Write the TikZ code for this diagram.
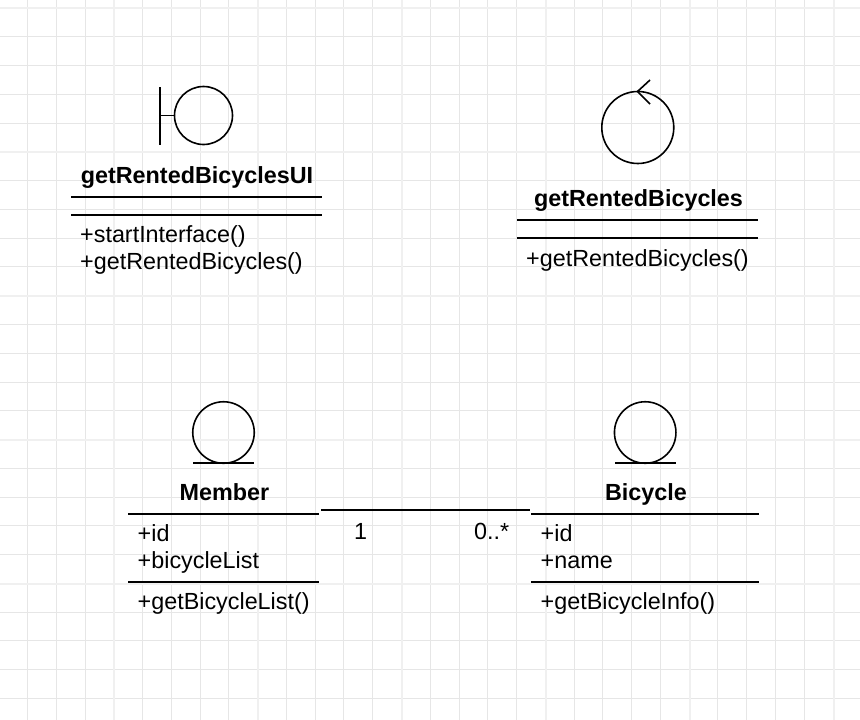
\documentclass[tikz,border=0pt]{standalone}
\usepackage{fontspec}
\setmainfont{Liberation Sans}
\definecolor{gridminor}{HTML}{E6E6E6}
\definecolor{gridmajor}{HTML}{F0F0F0}
\tikzset{
  x=1pt,y=-1pt,
  gridline/.style={gridminor,line width=1pt},
  gridbold/.style={gridmajor,line width=1.6pt},
  sepline/.style={black,line width=1.6pt},
  shapeline/.style={black,line width=1.6pt},
  glyph/.style={circle,draw=black,line width=1.6pt,inner sep=0pt,outer sep=0pt},
  titletext/.style={font=\fontsize{23.35}{28}\selectfont\bfseries,inner sep=0pt,anchor=base},
  bodytext/.style={font=\fontsize{23.35}{28}\selectfont,inner sep=0pt,anchor=base west},
}
\begin{document}
\begin{tikzpicture}
\useasboundingbox (0,0) rectangle (860,720);
\fill[white] (0,0) rectangle (860,720);
% grid
\foreach \k in {0,...,29}{
  \pgfmathsetmacro{\gx}{27.5+28.77*\k}
  \draw[gridline] (\gx,0) -- (\gx,720);
}
\foreach \k in {0,...,24}{
  \pgfmathsetmacro{\gy}{8+28.77*\k}
  \draw[gridline] (0,\gy) -- (860,\gy);
}
\foreach \gx in {114,258,402,546,690,834}{\draw[gridbold] (\gx,0) -- (\gx,720);}
\foreach \gy in {8,152,296,440,584}{\draw[gridbold] (0,\gy) -- (860,\gy);}

% boundary class
\node[glyph,minimum size=58pt] (bcirc) at (203.5,115.5) {};
\coordinate (bbarT) at (160,87);
\coordinate (bbarB) at (160,144.5);
\coordinate (bbarM) at (160,115.5);
\draw[shapeline] (bbarT) -- (bbarB);
\draw[shapeline] (bbarM) -- (bcirc.west);
\node[titletext] (uititle) at (197,183) {getRentedBicyclesUI};
\coordinate (uiL1) at (71,197); \coordinate (uiR1) at (322,197);
\coordinate (uiL2) at (71,215); \coordinate (uiR2) at (322,215);
\draw[sepline] (uiL1) -- (uiR1);
\draw[sepline] (uiL2) -- (uiR2);
\node[bodytext] (uiop1) at (80,242) {+startInterface()};
\node[bodytext] (uiop2) at (80,269) {+getRentedBicycles()};

% control class
\node[glyph,minimum size=72pt] (ccirc) at (637.8,127.5) {};
\coordinate (ctip) at (637.5,91.5);
\coordinate (ctop) at (650,80);
\coordinate (cbot) at (650,104);
\draw[shapeline] (ctop) -- (ctip) -- (cbot);
\node[titletext] (ctitle) at (638.5,206) {getRentedBicycles};
\coordinate (cL1) at (517,220); \coordinate (cR1) at (758,220);
\coordinate (cL2) at (517,238); \coordinate (cR2) at (758,238);
\draw[sepline] (cL1) -- (cR1);
\draw[sepline] (cL2) -- (cR2);
\node[bodytext] (cop1) at (526,266) {+getRentedBicycles()};

% entity Member
\node[glyph,minimum size=61.5pt] (mcirc) at (223.5,432.5) {};
\coordinate (mulL) at (193,463); \coordinate (mulR) at (254,463);
\draw[shapeline] (mulL) -- (mulR);
\node[titletext] (mtitle) at (224.5,500) {Member};
\coordinate (mL1) at (128,514); \coordinate (mR1) at (319,514);
\coordinate (mL2) at (128,582); \coordinate (mR2) at (319,582);
\draw[sepline] (mL1) -- (mR1);
\draw[sepline] (mL2) -- (mR2);
\node[bodytext] (mattr1) at (137.5,541) {+id};
\node[bodytext] (mattr2) at (137.5,568) {+bicycleList};
\node[bodytext] (mop1) at (137.5,609) {+getBicycleList()};

% entity Bicycle
\node[glyph,minimum size=61.5pt] (bicirc) at (645.2,432.5) {};
\coordinate (bulL) at (615,463); \coordinate (bulR) at (676,463);
\draw[shapeline] (bulL) -- (bulR);
\node[titletext] (btitle) at (646,500) {Bicycle};
\coordinate (bL1) at (531,514); \coordinate (bR1) at (759,514);
\coordinate (bL2) at (531,582); \coordinate (bR2) at (759,582);
\draw[sepline] (bL1) -- (bR1);
\draw[sepline] (bL2) -- (bR2);
\node[bodytext] (battr1) at (540.5,541) {+id};
\node[bodytext] (battr2) at (540.5,568) {+name};
\node[bodytext] (bop1) at (540.5,609) {+getBicycleInfo()};

% association
\coordinate (assocL) at (321,510);
\coordinate (assocR) at (530,510);
\draw[sepline] (assocL) -- (assocR);
\node[bodytext] (mult1) at (354,539) {1};
\node[bodytext] (mult2) at (474,539) {0..*};
\end{tikzpicture}
\end{document}
